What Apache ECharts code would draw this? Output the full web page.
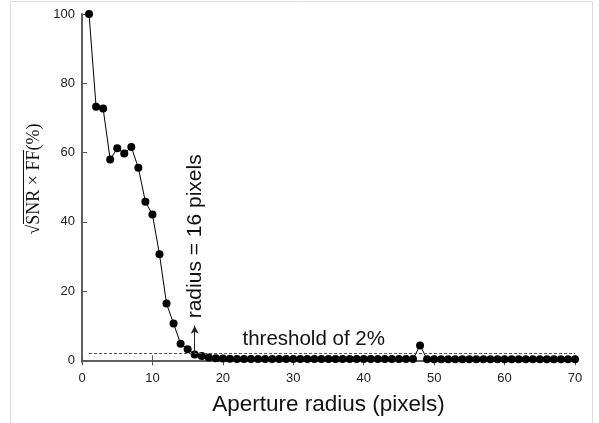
<!DOCTYPE html>
<html>
<head>
<meta charset="utf-8">
<script src="https://cdn.jsdelivr.net/npm/echarts@6/dist/echarts.min.js"></script>
<style>html,body{margin:0;padding:0;background:#fff;}#c{width:599px;height:423px;}</style>
</head>
<body>
<div id="c"></div>
<script>
// Aperture radius (pixels)
const radius = [];
for (let i = 1; i <= 70; i++) radius.push(i);
// sqrt(SNR x FF) (%)
const values = [
  100, 73.2, 72.7, 58.0, 61.2, 59.7, 61.6, 55.6, 45.8, 42.1,
  30.6, 16.4, 10.6, 4.8, 3.2, 1.7, 1.2, 0.8, 0.6, 0.5,
  0.45, 0.4, 0.4, 0.4, 0.4, 0.4, 0.4, 0.4, 0.4, 0.4,
  0.35, 0.35, 0.35, 0.35, 0.35, 0.35, 0.35, 0.35, 0.35, 0.35,
  0.35, 0.35, 0.35, 0.35, 0.35, 0.35, 0.35, 4.3, 0.3, 0.3,
  0.3, 0.3, 0.3, 0.3, 0.3, 0.3, 0.3, 0.3, 0.3, 0.3,
  0.3, 0.3, 0.3, 0.3, 0.3, 0.3, 0.3, 0.3, 0.3, 0.3
];
const xTicks = [0, 10, 20, 30, 40, 50, 60, 70];
const yTicks = [0, 20, 40, 60, 80, 100];
const threshold = 2;
const chosenRadius = 16;
const arrowTop = 10;

const chart = echarts.init(document.getElementById('c'));
const axisColor = '#555';
const sans = 'Liberation Sans, Arial, Helvetica, sans-serif';
const labelFont = {fontFamily: sans, fontSize: 13, color: '#222'};

chart.setOption({
  backgroundColor: '#fff',
  animation: false,
  grid: {left: 82, right: 24, top: 14, bottom: 61},
  xAxis: [{
    type: 'value', min: 0, max: 70, interval: 10,
    position: 'bottom',
    name: 'Aperture radius (pixels)', nameLocation: 'middle', nameGap: 31,
    nameTextStyle: {fontFamily: sans, fontSize: 22.5, color: '#111'},
    axisLine: {lineStyle: {color: axisColor, width: 1.5}},
    axisTick: {inside: true, length: 5, lineStyle: {color: axisColor}},
    axisLabel: Object.assign({margin: 10, customValues: xTicks}, labelFont),
    splitLine: {show: false}
  }, {
    type: 'value', min: 0, max: 70, interval: 10, position: 'top',
    axisLine: {lineStyle: {color: axisColor, width: 1.5}},
    axisTick: {inside: true, length: 5, lineStyle: {color: axisColor}},
    axisLabel: {show: false}, splitLine: {show: false}
  }],
  yAxis: [{
    type: 'value', min: -0.5, max: 100,
    axisLine: {show: true, lineStyle: {color: axisColor, width: 1.5}},
    axisTick: {show: true, inside: true, length: 5, customValues: yTicks, lineStyle: {color: axisColor}},
    axisLabel: Object.assign({margin: 7, customValues: yTicks}, labelFont),
    splitLine: {show: false}
  }, {
    type: 'value', min: -0.5, max: 100, position: 'right',
    axisLine: {show: true, lineStyle: {color: axisColor, width: 1.5}},
    axisTick: {show: false}, axisLabel: {show: false}, splitLine: {show: false}
  }],
  series: [{
    type: 'line',
    data: radius.map((r, i) => [r, values[i]]),
    symbol: 'circle', symbolSize: 8,
    itemStyle: {color: '#000'},
    lineStyle: {color: '#000', width: 1},
    z: 3,
    markLine: {
      silent: true,
      animation: false,
      label: {show: false},
      data: [
        [{coord: [1, threshold], symbol: 'none', lineStyle: {type: [3, 2], color: '#555', width: 1}},
         {coord: [70, threshold], symbol: 'none'}],
        [{coord: [chosenRadius, threshold], symbol: 'none', lineStyle: {type: 'solid', color: '#222', width: 1}},
         {coord: [chosenRadius, arrowTop], symbol: 'arrow', symbolSize: [6, 8]}]
      ]
    },
    markPoint: {
      silent: true,
      symbol: 'circle', symbolSize: 0,
      data: [
        {coord: [16.05, 35.8], label: {show: true, position: 'inside', formatter: 'radius = 16 pixels', rotate: 90,
          fontFamily: sans, fontSize: 21, color: '#111'}},
        {coord: [32.9, 6.1], label: {show: true, position: 'inside', formatter: 'threshold of 2%',
          fontFamily: sans, fontSize: 20.5, color: '#111'}}
      ]
    }
  }],
  graphic: [
    {type: 'rect', shape: {x: 10.5, y: 1.5, width: 582, height: 440}, style: {fill: 'none', stroke: '#ddd', lineWidth: 1}, silent: true},
    {type: 'text', x: 34, y: 179, rotation: Math.PI / 2,
      style: {text: '√SNR × FF(%)', font: '18px "Liberation Serif", "Times New Roman", serif', fill: '#111', align: 'center', verticalAlign: 'middle'}},
    {type: 'line', shape: {x1: 23.5, y1: 150, x2: 23.5, y2: 224}, style: {stroke: '#111', lineWidth: 1}}
  ]
});
</script>
</body>
</html>
